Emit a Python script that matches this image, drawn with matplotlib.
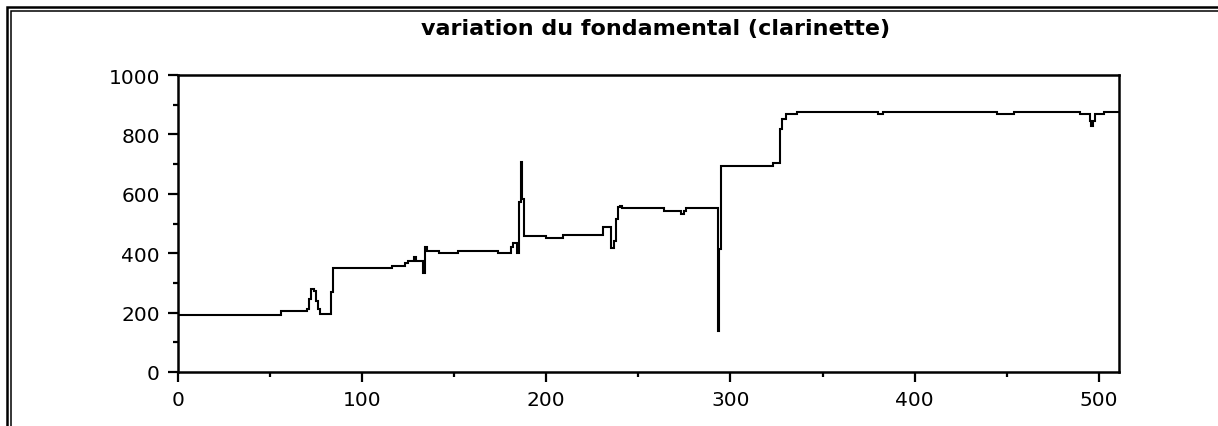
"""Variation du fondamental d'une clarinette (pitch track over 512 frames)."""

import matplotlib
matplotlib.use("Agg")
import matplotlib.pyplot as plt
from matplotlib.lines import Line2D
from matplotlib.ticker import MultipleLocator

# breakpoints of the pitch track (frame index, frequency in Hz)
frames = [
    0, 55, 56, 69, 70, 71, 72, 74, 75, 76, 77, 82, 83, 84,
    115, 116, 122, 123, 124, 125, 127, 128, 129, 131, 133, 134, 135,
    141, 142, 151, 152, 173, 174, 179, 181, 182, 183, 184, 185, 186, 187, 188,
    199, 200, 208, 209, 230, 231, 234, 235, 237, 238, 239, 240, 241,
    263, 264, 272, 273, 275, 276, 292, 293, 294, 295,
    322, 323, 326, 327, 328, 330, 335, 336,
    379, 380, 382, 383, 444, 445, 453, 454,
    489, 490, 494, 495, 496, 497, 498, 502, 503, 511,
]
freqs = [
    193, 193, 204, 204, 212, 246, 279, 272, 240, 212, 195, 195, 268, 349,
    349, 358, 358, 366, 366, 375, 375, 386, 375, 375, 333, 420, 408,
    408, 400, 400, 408, 408, 400, 400, 421, 434, 434, 400, 571, 706, 582, 459,
    459, 451, 451, 462, 462, 488, 488, 417, 442, 515, 555, 560, 552,
    552, 543, 543, 532, 543, 552, 552, 139, 414, 695,
    695, 704, 704, 818, 852, 869, 869, 876,
    876, 869, 869, 876, 876, 869, 869, 876,
    876, 869, 869, 846, 829, 846, 869, 869, 874, 874,
]

title = "variation du fondamental (clarinette)"
x_max = 511
y_max = 1000

fig = plt.figure(figsize=(12.18, 4.27), dpi=100)
ax = fig.add_axes([178 / 1218, 1 - 373 / 427, (1119 - 178) / 1218, (373 - 76) / 427])

ax.plot(frames, freqs, color="black", linewidth=1.5, drawstyle="steps-post",
        solid_joinstyle="miter")
ax.set_xlim(0, x_max)
ax.set_ylim(0, y_max)

ax.xaxis.set_major_locator(MultipleLocator(100))
ax.xaxis.set_minor_locator(MultipleLocator(50))
ax.yaxis.set_major_locator(MultipleLocator(200))
ax.yaxis.set_minor_locator(MultipleLocator(100))
ax.tick_params(which="major", direction="out", length=7, width=1.6,
               labelsize=14.5, color="black")
ax.tick_params(which="minor", direction="out", length=3.5, width=1.6, color="black")
ax.tick_params(axis="x", pad=6)
ax.tick_params(axis="y", pad=6)

for side in ["left", "bottom", "top", "right"]:
    ax.spines[side].set_linewidth(1.8)
    ax.spines[side].set_color("black")

fig.text(656 / 1218, 1 - 29 / 427, title, ha="center", va="center",
         fontsize=16, fontweight="bold")

# double frame along the top and left edges
W, H = 1218, 427
for x0, y0, lw in [(7, 8, 1.8), (11, 12, 1.1)]:
    fig.add_artist(Line2D([x0 / W, x0 / W, 1], [0, 1 - y0 / H, 1 - y0 / H],
                          transform=fig.transFigure, color="black",
                          linewidth=lw, solid_joinstyle="miter"))

fig.savefig("out.png", dpi=100)
